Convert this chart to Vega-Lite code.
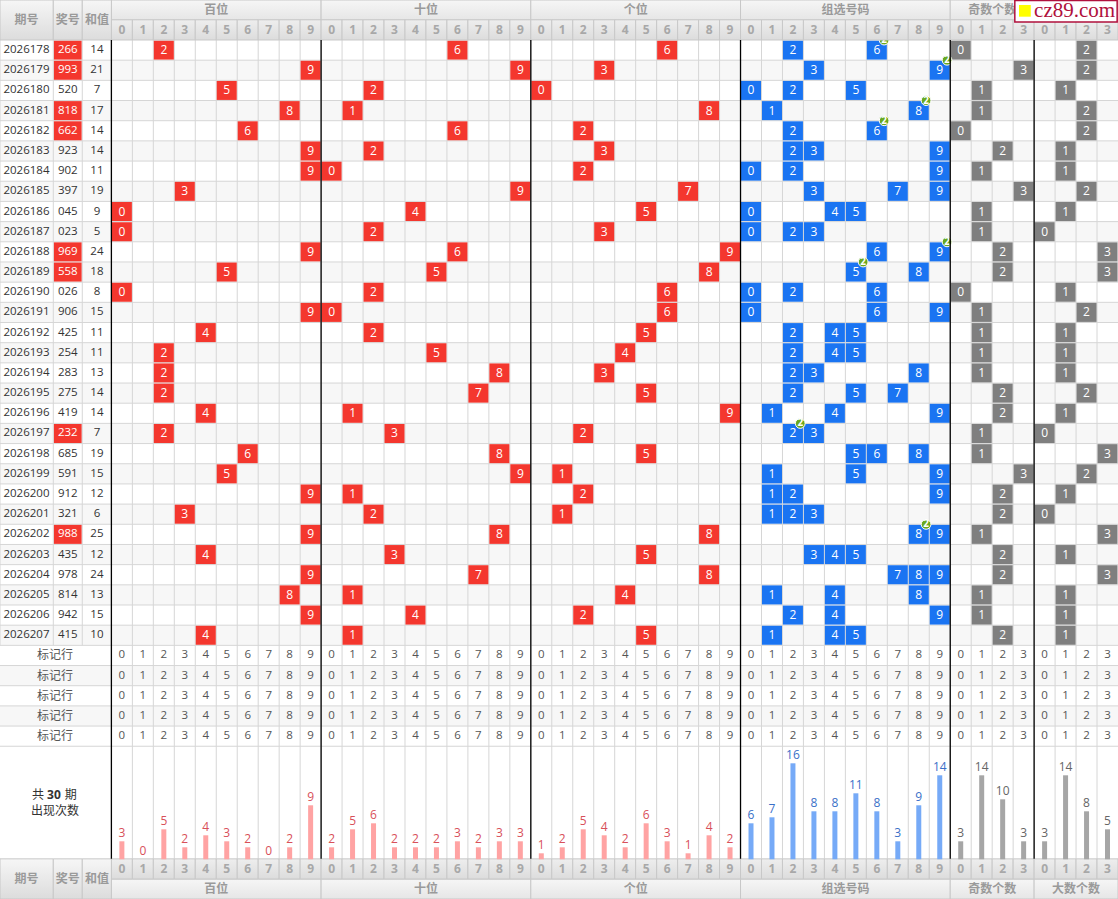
{
  "$schema": "https://vega.github.io/schema/vega-lite/v6.json",
  "width": 1118,
  "height": 899,
  "autosize": "none",
  "padding": 0,
  "background": "#ffffff",
  "datasets": {
    "draws": [
      {"row":0,"period":"2026178","number":"266","sum":14,"pair":true},
      {"row":1,"period":"2026179","number":"993","sum":21,"pair":true},
      {"row":2,"period":"2026180","number":"520","sum":7,"pair":false},
      {"row":3,"period":"2026181","number":"818","sum":17,"pair":true},
      {"row":4,"period":"2026182","number":"662","sum":14,"pair":true},
      {"row":5,"period":"2026183","number":"923","sum":14,"pair":false},
      {"row":6,"period":"2026184","number":"902","sum":11,"pair":false},
      {"row":7,"period":"2026185","number":"397","sum":19,"pair":false},
      {"row":8,"period":"2026186","number":"045","sum":9,"pair":false},
      {"row":9,"period":"2026187","number":"023","sum":5,"pair":false},
      {"row":10,"period":"2026188","number":"969","sum":24,"pair":true},
      {"row":11,"period":"2026189","number":"558","sum":18,"pair":true},
      {"row":12,"period":"2026190","number":"026","sum":8,"pair":false},
      {"row":13,"period":"2026191","number":"906","sum":15,"pair":false},
      {"row":14,"period":"2026192","number":"425","sum":11,"pair":false},
      {"row":15,"period":"2026193","number":"254","sum":11,"pair":false},
      {"row":16,"period":"2026194","number":"283","sum":13,"pair":false},
      {"row":17,"period":"2026195","number":"275","sum":14,"pair":false},
      {"row":18,"period":"2026196","number":"419","sum":14,"pair":false},
      {"row":19,"period":"2026197","number":"232","sum":7,"pair":true},
      {"row":20,"period":"2026198","number":"685","sum":19,"pair":false},
      {"row":21,"period":"2026199","number":"591","sum":15,"pair":false},
      {"row":22,"period":"2026200","number":"912","sum":12,"pair":false},
      {"row":23,"period":"2026201","number":"321","sum":6,"pair":false},
      {"row":24,"period":"2026202","number":"988","sum":25,"pair":true},
      {"row":25,"period":"2026203","number":"435","sum":12,"pair":false},
      {"row":26,"period":"2026204","number":"978","sum":24,"pair":false},
      {"row":27,"period":"2026205","number":"814","sum":13,"pair":false},
      {"row":28,"period":"2026206","number":"942","sum":15,"pair":false},
      {"row":29,"period":"2026207","number":"415","sum":10,"pair":false}
    ],
    "rows": [
      {"row":0},{"row":1},{"row":2},{"row":3},{"row":4},{"row":5},{"row":6},{"row":7},{"row":8},{"row":9},
      {"row":10},{"row":11},{"row":12},{"row":13},{"row":14},{"row":15},{"row":16},{"row":17},{"row":18},{"row":19},
      {"row":20},{"row":21},{"row":22},{"row":23},{"row":24},{"row":25},{"row":26},{"row":27},{"row":28},{"row":29},
      {"row":30,"label":"标记行"},{"row":31,"label":"标记行"},{"row":32,"label":"标记行"},{"row":33,"label":"标记行"},{"row":34,"label":"标记行"}
    ],
    "columns": [
      {"col":0,"digit":0,"kind":"red","count":3,"markRow":[30,31,32,33,34]},
      {"col":1,"digit":1,"kind":"red","count":0,"markRow":[30,31,32,33,34]},
      {"col":2,"digit":2,"kind":"red","count":5,"markRow":[30,31,32,33,34]},
      {"col":3,"digit":3,"kind":"red","count":2,"markRow":[30,31,32,33,34]},
      {"col":4,"digit":4,"kind":"red","count":4,"markRow":[30,31,32,33,34]},
      {"col":5,"digit":5,"kind":"red","count":3,"markRow":[30,31,32,33,34]},
      {"col":6,"digit":6,"kind":"red","count":2,"markRow":[30,31,32,33,34]},
      {"col":7,"digit":7,"kind":"red","count":0,"markRow":[30,31,32,33,34]},
      {"col":8,"digit":8,"kind":"red","count":2,"markRow":[30,31,32,33,34]},
      {"col":9,"digit":9,"kind":"red","count":9,"markRow":[30,31,32,33,34]},
      {"col":10,"digit":0,"kind":"red","count":2,"markRow":[30,31,32,33,34]},
      {"col":11,"digit":1,"kind":"red","count":5,"markRow":[30,31,32,33,34]},
      {"col":12,"digit":2,"kind":"red","count":6,"markRow":[30,31,32,33,34]},
      {"col":13,"digit":3,"kind":"red","count":2,"markRow":[30,31,32,33,34]},
      {"col":14,"digit":4,"kind":"red","count":2,"markRow":[30,31,32,33,34]},
      {"col":15,"digit":5,"kind":"red","count":2,"markRow":[30,31,32,33,34]},
      {"col":16,"digit":6,"kind":"red","count":3,"markRow":[30,31,32,33,34]},
      {"col":17,"digit":7,"kind":"red","count":2,"markRow":[30,31,32,33,34]},
      {"col":18,"digit":8,"kind":"red","count":3,"markRow":[30,31,32,33,34]},
      {"col":19,"digit":9,"kind":"red","count":3,"markRow":[30,31,32,33,34]},
      {"col":20,"digit":0,"kind":"red","count":1,"markRow":[30,31,32,33,34]},
      {"col":21,"digit":1,"kind":"red","count":2,"markRow":[30,31,32,33,34]},
      {"col":22,"digit":2,"kind":"red","count":5,"markRow":[30,31,32,33,34]},
      {"col":23,"digit":3,"kind":"red","count":4,"markRow":[30,31,32,33,34]},
      {"col":24,"digit":4,"kind":"red","count":2,"markRow":[30,31,32,33,34]},
      {"col":25,"digit":5,"kind":"red","count":6,"markRow":[30,31,32,33,34]},
      {"col":26,"digit":6,"kind":"red","count":3,"markRow":[30,31,32,33,34]},
      {"col":27,"digit":7,"kind":"red","count":1,"markRow":[30,31,32,33,34]},
      {"col":28,"digit":8,"kind":"red","count":4,"markRow":[30,31,32,33,34]},
      {"col":29,"digit":9,"kind":"red","count":2,"markRow":[30,31,32,33,34]},
      {"col":30,"digit":0,"kind":"blue","count":6,"markRow":[30,31,32,33,34]},
      {"col":31,"digit":1,"kind":"blue","count":7,"markRow":[30,31,32,33,34]},
      {"col":32,"digit":2,"kind":"blue","count":16,"markRow":[30,31,32,33,34]},
      {"col":33,"digit":3,"kind":"blue","count":8,"markRow":[30,31,32,33,34]},
      {"col":34,"digit":4,"kind":"blue","count":8,"markRow":[30,31,32,33,34]},
      {"col":35,"digit":5,"kind":"blue","count":11,"markRow":[30,31,32,33,34]},
      {"col":36,"digit":6,"kind":"blue","count":8,"markRow":[30,31,32,33,34]},
      {"col":37,"digit":7,"kind":"blue","count":3,"markRow":[30,31,32,33,34]},
      {"col":38,"digit":8,"kind":"blue","count":9,"markRow":[30,31,32,33,34]},
      {"col":39,"digit":9,"kind":"blue","count":14,"markRow":[30,31,32,33,34]},
      {"col":40,"digit":0,"kind":"gray","count":3,"markRow":[30,31,32,33,34]},
      {"col":41,"digit":1,"kind":"gray","count":14,"markRow":[30,31,32,33,34]},
      {"col":42,"digit":2,"kind":"gray","count":10,"markRow":[30,31,32,33,34]},
      {"col":43,"digit":3,"kind":"gray","count":3,"markRow":[30,31,32,33,34]},
      {"col":44,"digit":0,"kind":"gray","count":3,"markRow":[30,31,32,33,34]},
      {"col":45,"digit":1,"kind":"gray","count":14,"markRow":[30,31,32,33,34]},
      {"col":46,"digit":2,"kind":"gray","count":8,"markRow":[30,31,32,33,34]},
      {"col":47,"digit":3,"kind":"gray","count":5,"markRow":[30,31,32,33,34]}
    ],
    "groups": [
      {"name":"百位","start":-0.5,"end":9.5,"center":4.5},
      {"name":"十位","start":9.5,"end":19.5,"center":14.5},
      {"name":"个位","start":19.5,"end":29.5,"center":24.5},
      {"name":"组选号码","start":29.5,"end":39.5,"center":34.5},
      {"name":"奇数个数","start":39.5,"end":43.5,"center":41.5},
      {"name":"大数个数","start":43.5,"end":47.5,"center":45.5}
    ],
    "leftColumns": [
      {"name":"期号","start":-5.812,"end":-3.27,"center":-4.55},
      {"name":"奖号","start":-3.27,"end":-1.888,"center":-2.58},
      {"name":"和值","start":-1.888,"end":-0.5,"center":-1.19}
    ],
    "badges": [
      {"row":0,"col":36,"times":2},
      {"row":1,"col":39,"times":2},
      {"row":3,"col":38,"times":2},
      {"row":4,"col":36,"times":2},
      {"row":10,"col":39,"times":2},
      {"row":11,"col":35,"times":2},
      {"row":19,"col":32,"times":2},
      {"row":24,"col":38,"times":2}
    ],
    "cells": [
      {"row":0,"col":2,"digit":2,"kind":"red"},{"row":0,"col":16,"digit":6,"kind":"red"},{"row":0,"col":26,"digit":6,"kind":"red"},
      {"row":0,"col":32,"digit":2,"kind":"blue"},{"row":0,"col":36,"digit":6,"kind":"blue"},
      {"row":0,"col":40,"digit":0,"kind":"gray"},{"row":0,"col":46,"digit":2,"kind":"gray"},
      {"row":1,"col":9,"digit":9,"kind":"red"},{"row":1,"col":19,"digit":9,"kind":"red"},{"row":1,"col":23,"digit":3,"kind":"red"},
      {"row":1,"col":33,"digit":3,"kind":"blue"},{"row":1,"col":39,"digit":9,"kind":"blue"},
      {"row":1,"col":43,"digit":3,"kind":"gray"},{"row":1,"col":46,"digit":2,"kind":"gray"},
      {"row":2,"col":5,"digit":5,"kind":"red"},{"row":2,"col":12,"digit":2,"kind":"red"},{"row":2,"col":20,"digit":0,"kind":"red"},
      {"row":2,"col":30,"digit":0,"kind":"blue"},{"row":2,"col":32,"digit":2,"kind":"blue"},{"row":2,"col":35,"digit":5,"kind":"blue"},
      {"row":2,"col":41,"digit":1,"kind":"gray"},{"row":2,"col":45,"digit":1,"kind":"gray"},
      {"row":3,"col":8,"digit":8,"kind":"red"},{"row":3,"col":11,"digit":1,"kind":"red"},{"row":3,"col":28,"digit":8,"kind":"red"},
      {"row":3,"col":31,"digit":1,"kind":"blue"},{"row":3,"col":38,"digit":8,"kind":"blue"},
      {"row":3,"col":41,"digit":1,"kind":"gray"},{"row":3,"col":46,"digit":2,"kind":"gray"},
      {"row":4,"col":6,"digit":6,"kind":"red"},{"row":4,"col":16,"digit":6,"kind":"red"},{"row":4,"col":22,"digit":2,"kind":"red"},
      {"row":4,"col":32,"digit":2,"kind":"blue"},{"row":4,"col":36,"digit":6,"kind":"blue"},
      {"row":4,"col":40,"digit":0,"kind":"gray"},{"row":4,"col":46,"digit":2,"kind":"gray"},
      {"row":5,"col":9,"digit":9,"kind":"red"},{"row":5,"col":12,"digit":2,"kind":"red"},{"row":5,"col":23,"digit":3,"kind":"red"},
      {"row":5,"col":32,"digit":2,"kind":"blue"},{"row":5,"col":33,"digit":3,"kind":"blue"},{"row":5,"col":39,"digit":9,"kind":"blue"},
      {"row":5,"col":42,"digit":2,"kind":"gray"},{"row":5,"col":45,"digit":1,"kind":"gray"},
      {"row":6,"col":9,"digit":9,"kind":"red"},{"row":6,"col":10,"digit":0,"kind":"red"},{"row":6,"col":22,"digit":2,"kind":"red"},
      {"row":6,"col":30,"digit":0,"kind":"blue"},{"row":6,"col":32,"digit":2,"kind":"blue"},{"row":6,"col":39,"digit":9,"kind":"blue"},
      {"row":6,"col":41,"digit":1,"kind":"gray"},{"row":6,"col":45,"digit":1,"kind":"gray"},
      {"row":7,"col":3,"digit":3,"kind":"red"},{"row":7,"col":19,"digit":9,"kind":"red"},{"row":7,"col":27,"digit":7,"kind":"red"},
      {"row":7,"col":33,"digit":3,"kind":"blue"},{"row":7,"col":37,"digit":7,"kind":"blue"},{"row":7,"col":39,"digit":9,"kind":"blue"},
      {"row":7,"col":43,"digit":3,"kind":"gray"},{"row":7,"col":46,"digit":2,"kind":"gray"},
      {"row":8,"col":0,"digit":0,"kind":"red"},{"row":8,"col":14,"digit":4,"kind":"red"},{"row":8,"col":25,"digit":5,"kind":"red"},
      {"row":8,"col":30,"digit":0,"kind":"blue"},{"row":8,"col":34,"digit":4,"kind":"blue"},{"row":8,"col":35,"digit":5,"kind":"blue"},
      {"row":8,"col":41,"digit":1,"kind":"gray"},{"row":8,"col":45,"digit":1,"kind":"gray"},
      {"row":9,"col":0,"digit":0,"kind":"red"},{"row":9,"col":12,"digit":2,"kind":"red"},{"row":9,"col":23,"digit":3,"kind":"red"},
      {"row":9,"col":30,"digit":0,"kind":"blue"},{"row":9,"col":32,"digit":2,"kind":"blue"},{"row":9,"col":33,"digit":3,"kind":"blue"},
      {"row":9,"col":41,"digit":1,"kind":"gray"},{"row":9,"col":44,"digit":0,"kind":"gray"},
      {"row":10,"col":9,"digit":9,"kind":"red"},{"row":10,"col":16,"digit":6,"kind":"red"},{"row":10,"col":29,"digit":9,"kind":"red"},
      {"row":10,"col":36,"digit":6,"kind":"blue"},{"row":10,"col":39,"digit":9,"kind":"blue"},
      {"row":10,"col":42,"digit":2,"kind":"gray"},{"row":10,"col":47,"digit":3,"kind":"gray"},
      {"row":11,"col":5,"digit":5,"kind":"red"},{"row":11,"col":15,"digit":5,"kind":"red"},{"row":11,"col":28,"digit":8,"kind":"red"},
      {"row":11,"col":35,"digit":5,"kind":"blue"},{"row":11,"col":38,"digit":8,"kind":"blue"},
      {"row":11,"col":42,"digit":2,"kind":"gray"},{"row":11,"col":47,"digit":3,"kind":"gray"},
      {"row":12,"col":0,"digit":0,"kind":"red"},{"row":12,"col":12,"digit":2,"kind":"red"},{"row":12,"col":26,"digit":6,"kind":"red"},
      {"row":12,"col":30,"digit":0,"kind":"blue"},{"row":12,"col":32,"digit":2,"kind":"blue"},{"row":12,"col":36,"digit":6,"kind":"blue"},
      {"row":12,"col":40,"digit":0,"kind":"gray"},{"row":12,"col":45,"digit":1,"kind":"gray"},
      {"row":13,"col":9,"digit":9,"kind":"red"},{"row":13,"col":10,"digit":0,"kind":"red"},{"row":13,"col":26,"digit":6,"kind":"red"},
      {"row":13,"col":30,"digit":0,"kind":"blue"},{"row":13,"col":36,"digit":6,"kind":"blue"},{"row":13,"col":39,"digit":9,"kind":"blue"},
      {"row":13,"col":41,"digit":1,"kind":"gray"},{"row":13,"col":46,"digit":2,"kind":"gray"},
      {"row":14,"col":4,"digit":4,"kind":"red"},{"row":14,"col":12,"digit":2,"kind":"red"},{"row":14,"col":25,"digit":5,"kind":"red"},
      {"row":14,"col":32,"digit":2,"kind":"blue"},{"row":14,"col":34,"digit":4,"kind":"blue"},{"row":14,"col":35,"digit":5,"kind":"blue"},
      {"row":14,"col":41,"digit":1,"kind":"gray"},{"row":14,"col":45,"digit":1,"kind":"gray"},
      {"row":15,"col":2,"digit":2,"kind":"red"},{"row":15,"col":15,"digit":5,"kind":"red"},{"row":15,"col":24,"digit":4,"kind":"red"},
      {"row":15,"col":32,"digit":2,"kind":"blue"},{"row":15,"col":34,"digit":4,"kind":"blue"},{"row":15,"col":35,"digit":5,"kind":"blue"},
      {"row":15,"col":41,"digit":1,"kind":"gray"},{"row":15,"col":45,"digit":1,"kind":"gray"},
      {"row":16,"col":2,"digit":2,"kind":"red"},{"row":16,"col":18,"digit":8,"kind":"red"},{"row":16,"col":23,"digit":3,"kind":"red"},
      {"row":16,"col":32,"digit":2,"kind":"blue"},{"row":16,"col":33,"digit":3,"kind":"blue"},{"row":16,"col":38,"digit":8,"kind":"blue"},
      {"row":16,"col":41,"digit":1,"kind":"gray"},{"row":16,"col":45,"digit":1,"kind":"gray"},
      {"row":17,"col":2,"digit":2,"kind":"red"},{"row":17,"col":17,"digit":7,"kind":"red"},{"row":17,"col":25,"digit":5,"kind":"red"},
      {"row":17,"col":32,"digit":2,"kind":"blue"},{"row":17,"col":35,"digit":5,"kind":"blue"},{"row":17,"col":37,"digit":7,"kind":"blue"},
      {"row":17,"col":42,"digit":2,"kind":"gray"},{"row":17,"col":46,"digit":2,"kind":"gray"},
      {"row":18,"col":4,"digit":4,"kind":"red"},{"row":18,"col":11,"digit":1,"kind":"red"},{"row":18,"col":29,"digit":9,"kind":"red"},
      {"row":18,"col":31,"digit":1,"kind":"blue"},{"row":18,"col":34,"digit":4,"kind":"blue"},{"row":18,"col":39,"digit":9,"kind":"blue"},
      {"row":18,"col":42,"digit":2,"kind":"gray"},{"row":18,"col":45,"digit":1,"kind":"gray"},
      {"row":19,"col":2,"digit":2,"kind":"red"},{"row":19,"col":13,"digit":3,"kind":"red"},{"row":19,"col":22,"digit":2,"kind":"red"},
      {"row":19,"col":32,"digit":2,"kind":"blue"},{"row":19,"col":33,"digit":3,"kind":"blue"},
      {"row":19,"col":41,"digit":1,"kind":"gray"},{"row":19,"col":44,"digit":0,"kind":"gray"},
      {"row":20,"col":6,"digit":6,"kind":"red"},{"row":20,"col":18,"digit":8,"kind":"red"},{"row":20,"col":25,"digit":5,"kind":"red"},
      {"row":20,"col":35,"digit":5,"kind":"blue"},{"row":20,"col":36,"digit":6,"kind":"blue"},{"row":20,"col":38,"digit":8,"kind":"blue"},
      {"row":20,"col":41,"digit":1,"kind":"gray"},{"row":20,"col":47,"digit":3,"kind":"gray"},
      {"row":21,"col":5,"digit":5,"kind":"red"},{"row":21,"col":19,"digit":9,"kind":"red"},{"row":21,"col":21,"digit":1,"kind":"red"},
      {"row":21,"col":31,"digit":1,"kind":"blue"},{"row":21,"col":35,"digit":5,"kind":"blue"},{"row":21,"col":39,"digit":9,"kind":"blue"},
      {"row":21,"col":43,"digit":3,"kind":"gray"},{"row":21,"col":46,"digit":2,"kind":"gray"},
      {"row":22,"col":9,"digit":9,"kind":"red"},{"row":22,"col":11,"digit":1,"kind":"red"},{"row":22,"col":22,"digit":2,"kind":"red"},
      {"row":22,"col":31,"digit":1,"kind":"blue"},{"row":22,"col":32,"digit":2,"kind":"blue"},{"row":22,"col":39,"digit":9,"kind":"blue"},
      {"row":22,"col":42,"digit":2,"kind":"gray"},{"row":22,"col":45,"digit":1,"kind":"gray"},
      {"row":23,"col":3,"digit":3,"kind":"red"},{"row":23,"col":12,"digit":2,"kind":"red"},{"row":23,"col":21,"digit":1,"kind":"red"},
      {"row":23,"col":31,"digit":1,"kind":"blue"},{"row":23,"col":32,"digit":2,"kind":"blue"},{"row":23,"col":33,"digit":3,"kind":"blue"},
      {"row":23,"col":42,"digit":2,"kind":"gray"},{"row":23,"col":44,"digit":0,"kind":"gray"},
      {"row":24,"col":9,"digit":9,"kind":"red"},{"row":24,"col":18,"digit":8,"kind":"red"},{"row":24,"col":28,"digit":8,"kind":"red"},
      {"row":24,"col":38,"digit":8,"kind":"blue"},{"row":24,"col":39,"digit":9,"kind":"blue"},
      {"row":24,"col":41,"digit":1,"kind":"gray"},{"row":24,"col":47,"digit":3,"kind":"gray"},
      {"row":25,"col":4,"digit":4,"kind":"red"},{"row":25,"col":13,"digit":3,"kind":"red"},{"row":25,"col":25,"digit":5,"kind":"red"},
      {"row":25,"col":33,"digit":3,"kind":"blue"},{"row":25,"col":34,"digit":4,"kind":"blue"},{"row":25,"col":35,"digit":5,"kind":"blue"},
      {"row":25,"col":42,"digit":2,"kind":"gray"},{"row":25,"col":45,"digit":1,"kind":"gray"},
      {"row":26,"col":9,"digit":9,"kind":"red"},{"row":26,"col":17,"digit":7,"kind":"red"},{"row":26,"col":28,"digit":8,"kind":"red"},
      {"row":26,"col":37,"digit":7,"kind":"blue"},{"row":26,"col":38,"digit":8,"kind":"blue"},{"row":26,"col":39,"digit":9,"kind":"blue"},
      {"row":26,"col":42,"digit":2,"kind":"gray"},{"row":26,"col":47,"digit":3,"kind":"gray"},
      {"row":27,"col":8,"digit":8,"kind":"red"},{"row":27,"col":11,"digit":1,"kind":"red"},{"row":27,"col":24,"digit":4,"kind":"red"},
      {"row":27,"col":31,"digit":1,"kind":"blue"},{"row":27,"col":34,"digit":4,"kind":"blue"},{"row":27,"col":38,"digit":8,"kind":"blue"},
      {"row":27,"col":41,"digit":1,"kind":"gray"},{"row":27,"col":45,"digit":1,"kind":"gray"},
      {"row":28,"col":9,"digit":9,"kind":"red"},{"row":28,"col":14,"digit":4,"kind":"red"},{"row":28,"col":22,"digit":2,"kind":"red"},
      {"row":28,"col":32,"digit":2,"kind":"blue"},{"row":28,"col":34,"digit":4,"kind":"blue"},{"row":28,"col":39,"digit":9,"kind":"blue"},
      {"row":28,"col":41,"digit":1,"kind":"gray"},{"row":28,"col":45,"digit":1,"kind":"gray"},
      {"row":29,"col":4,"digit":4,"kind":"red"},{"row":29,"col":11,"digit":1,"kind":"red"},{"row":29,"col":25,"digit":5,"kind":"red"},
      {"row":29,"col":31,"digit":1,"kind":"blue"},{"row":29,"col":34,"digit":4,"kind":"blue"},{"row":29,"col":35,"digit":5,"kind":"blue"},
      {"row":29,"col":42,"digit":2,"kind":"gray"},{"row":29,"col":45,"digit":1,"kind":"gray"}
    ]
  },
  "resolve": {"scale": {"y": "independent", "color": "independent"}},
  "layer": [
    {
      "layer": [
        {
          "data": {"name": "rows"},
          "transform": [{"filter": "datum.row % 2 == 1"}],
          "mark": {"type": "rect", "height": 20.18, "fill": "#f7f7f7"},
          "encoding": {
            "x": {"datum": -5.812, "type": "quantitative", "scale": {"domain": [-5.812, 47.5], "nice": false, "zero": false}},
            "x2": {"datum": 47.5},
            "y": {"field": "row", "type": "quantitative", "scale": {"domain": [42.07, -2.482], "nice": false, "zero": false}}
          }
        },
        {
          "data": {"name": "rows"},
          "mark": {"type": "rule", "stroke": "#d6d6d6", "strokeWidth": 1, "yOffset": 10.09},
          "encoding": {
            "y": {"field": "row", "type": "quantitative", "scale": {"domain": [42.07, -2.482], "nice": false, "zero": false}}
          }
        },
        {
          "data": {"name": "columns"},
          "mark": {"type": "rule", "stroke": "#d6d6d6", "strokeWidth": 1, "xOffset": -10.485},
          "encoding": {
            "x": {"field": "col", "type": "quantitative", "scale": {"domain": [-5.812, 47.5], "nice": false, "zero": false}},
            "y": {"datum": -0.5, "type": "quantitative", "scale": {"domain": [42.07, -2.482], "nice": false, "zero": false}},
            "y2": {"datum": 40.08}
          }
        },
        {
          "data": {"name": "leftColumns"},
          "mark": {"type": "rule", "stroke": "#d6d6d6", "strokeWidth": 1},
          "encoding": {
            "x": {"field": "start", "type": "quantitative", "scale": {"domain": [-5.812, 47.5], "nice": false, "zero": false}},
            "y": {"datum": -0.5, "type": "quantitative", "scale": {"domain": [42.07, -2.482], "nice": false, "zero": false}},
            "y2": {"datum": 29.5}
          }
        },
        {
          "data": {"name": "draws"},
          "transform": [{"filter": "datum.pair"}],
          "mark": {"type": "rect", "height": 19, "fill": "#f4372e"},
          "encoding": {
            "x": {"datum": -3.24, "type": "quantitative", "scale": {"domain": [-5.812, 47.5], "nice": false, "zero": false}},
            "x2": {"datum": -1.92},
            "y": {"field": "row", "type": "quantitative", "scale": {"domain": [42.07, -2.482], "nice": false, "zero": false}}
          }
        },
        {
          "data": {"name": "draws"},
          "mark": {"type": "text", "font": "Open Sans", "fontSize": 11.5, "fill": "#333333", "baseline": "middle"},
          "encoding": {
            "x": {"datum": -4.55, "type": "quantitative", "scale": {"domain": [-5.812, 47.5], "nice": false, "zero": false}},
            "y": {"field": "row", "type": "quantitative", "scale": {"domain": [42.07, -2.482], "nice": false, "zero": false}},
            "text": {"field": "period"}
          }
        },
        {
          "data": {"name": "draws"},
          "mark": {"type": "text", "font": "Open Sans", "fontSize": 11.5, "baseline": "middle"},
          "encoding": {
            "x": {"datum": -2.58, "type": "quantitative", "scale": {"domain": [-5.812, 47.5], "nice": false, "zero": false}},
            "y": {"field": "row", "type": "quantitative", "scale": {"domain": [42.07, -2.482], "nice": false, "zero": false}},
            "text": {"field": "number"},
            "color": {"condition": {"test": "datum.pair", "value": "#ffffff"}, "value": "#333333"}
          }
        },
        {
          "data": {"name": "draws"},
          "mark": {"type": "text", "font": "Open Sans", "fontSize": 11.5, "fill": "#333333", "baseline": "middle"},
          "encoding": {
            "x": {"datum": -1.19, "type": "quantitative", "scale": {"domain": [-5.812, 47.5], "nice": false, "zero": false}},
            "y": {"field": "row", "type": "quantitative", "scale": {"domain": [42.07, -2.482], "nice": false, "zero": false}},
            "text": {"field": "sum"}
          }
        },
        {
          "data": {"name": "rows"},
          "transform": [{"filter": "datum.row >= 30"}],
          "mark": {"type": "text", "font": "Noto Sans CJK SC", "fontSize": 12, "fill": "#555555", "baseline": "middle"},
          "encoding": {
            "x": {"datum": -3.19, "type": "quantitative", "scale": {"domain": [-5.812, 47.5], "nice": false, "zero": false}},
            "y": {"field": "row", "type": "quantitative", "scale": {"domain": [42.07, -2.482], "nice": false, "zero": false}},
            "text": {"field": "label"}
          }
        },
        {
          "data": {"name": "columns"},
          "transform": [{"flatten": ["markRow"]}],
          "mark": {"type": "text", "font": "Open Sans", "fontSize": 11.5, "fill": "#555555", "baseline": "middle"},
          "encoding": {
            "x": {"field": "col", "type": "quantitative", "scale": {"domain": [-5.812, 47.5], "nice": false, "zero": false}},
            "y": {"field": "markRow", "type": "quantitative", "scale": {"domain": [42.07, -2.482], "nice": false, "zero": false}},
            "text": {"field": "digit"}
          }
        },
        {
          "data": {"name": "cells"},
          "mark": {"type": "rect", "width": 20, "height": 19},
          "encoding": {
            "x": {"field": "col", "type": "quantitative", "scale": {"domain": [-5.812, 47.5], "nice": false, "zero": false}},
            "y": {"field": "row", "type": "quantitative", "scale": {"domain": [42.07, -2.482], "nice": false, "zero": false}},
            "color": {"field": "kind", "type": "nominal", "legend": null, "scale": {"domain": ["red", "blue", "gray"], "range": ["#f4372e", "#1a74f2", "#7f7f7f"]}}
          }
        },
        {
          "data": {"name": "cells"},
          "mark": {"type": "text", "font": "Open Sans", "fontSize": 12, "fill": "#ffffff", "baseline": "middle"},
          "encoding": {
            "x": {"field": "col", "type": "quantitative", "scale": {"domain": [-5.812, 47.5], "nice": false, "zero": false}},
            "y": {"field": "row", "type": "quantitative", "scale": {"domain": [42.07, -2.482], "nice": false, "zero": false}},
            "text": {"field": "digit"}
          }
        },
        {
          "data": {"name": "badges"},
          "mark": {"type": "point", "shape": "circle", "filled": true, "size": 95, "fill": "#6aa81e", "stroke": "#ffffff", "strokeWidth": 1, "opacity": 1, "xOffset": 7.3, "yOffset": -10},
          "encoding": {
            "x": {"field": "col", "type": "quantitative", "scale": {"domain": [-5.812, 47.5], "nice": false, "zero": false}},
            "y": {"field": "row", "type": "quantitative", "scale": {"domain": [42.07, -2.482], "nice": false, "zero": false}}
          }
        },
        {
          "data": {"name": "badges"},
          "mark": {"type": "text", "font": "Open Sans", "fontSize": 10, "fontWeight": "bold", "fill": "#ffffff", "baseline": "middle", "xOffset": 7.3, "yOffset": -10},
          "encoding": {
            "x": {"field": "col", "type": "quantitative", "scale": {"domain": [-5.812, 47.5], "nice": false, "zero": false}},
            "y": {"field": "row", "type": "quantitative", "scale": {"domain": [42.07, -2.482], "nice": false, "zero": false}},
            "text": {"field": "times"}
          }
        },
        {
          "data": {"name": "groups"},
          "mark": {"type": "rect", "stroke": "#c8c8c8", "strokeWidth": 1, "fill": {"gradient": "linear", "x1": 0, "y1": 0, "x2": 0, "y2": 1, "stops": [{"offset": 0, "color": "#f6f6f6"}, {"offset": 1, "color": "#e6e6e6"}]}},
          "encoding": {
            "x": {"field": "start", "type": "quantitative", "scale": {"domain": [-5.812, 47.5], "nice": false, "zero": false}},
            "x2": {"field": "end"},
            "y": {"datum": -2.482, "type": "quantitative", "scale": {"domain": [42.07, -2.482], "nice": false, "zero": false}},
            "y2": {"datum": -1.491}
          }
        },
        {
          "data": {"name": "groups"},
          "mark": {"type": "rect", "stroke": "#c8c8c8", "strokeWidth": 1, "fill": {"gradient": "linear", "x1": 0, "y1": 0, "x2": 0, "y2": 1, "stops": [{"offset": 0, "color": "#f6f6f6"}, {"offset": 1, "color": "#e6e6e6"}]}},
          "encoding": {
            "x": {"field": "start", "type": "quantitative", "scale": {"domain": [-5.812, 47.5], "nice": false, "zero": false}},
            "x2": {"field": "end"},
            "y": {"datum": 41.08, "type": "quantitative", "scale": {"domain": [42.07, -2.482], "nice": false, "zero": false}},
            "y2": {"datum": 42.07}
          }
        },
        {
          "data": {"name": "columns"},
          "mark": {"type": "rect", "width": 20.97, "height": 20.18, "stroke": "#c8c8c8", "strokeWidth": 1, "fill": {"gradient": "linear", "x1": 0, "y1": 0, "x2": 0, "y2": 1, "stops": [{"offset": 0, "color": "#eeeeee"}, {"offset": 1, "color": "#dcdcdc"}]}},
          "encoding": {
            "x": {"field": "col", "type": "quantitative", "scale": {"domain": [-5.812, 47.5], "nice": false, "zero": false}},
            "y": {"datum": -1, "type": "quantitative", "scale": {"domain": [42.07, -2.482], "nice": false, "zero": false}}
          }
        },
        {
          "data": {"name": "columns"},
          "mark": {"type": "rect", "width": 20.97, "height": 20.18, "stroke": "#c8c8c8", "strokeWidth": 1, "fill": {"gradient": "linear", "x1": 0, "y1": 0, "x2": 0, "y2": 1, "stops": [{"offset": 0, "color": "#eeeeee"}, {"offset": 1, "color": "#dcdcdc"}]}},
          "encoding": {
            "x": {"field": "col", "type": "quantitative", "scale": {"domain": [-5.812, 47.5], "nice": false, "zero": false}},
            "y": {"datum": 40.58, "type": "quantitative", "scale": {"domain": [42.07, -2.482], "nice": false, "zero": false}}
          }
        },
        {
          "data": {"name": "leftColumns"},
          "mark": {"type": "rect", "stroke": "#c8c8c8", "strokeWidth": 1, "fill": {"gradient": "linear", "x1": 0, "y1": 0, "x2": 0, "y2": 1, "stops": [{"offset": 0, "color": "#f6f6f6"}, {"offset": 1, "color": "#dcdcdc"}]}},
          "encoding": {
            "x": {"field": "start", "type": "quantitative", "scale": {"domain": [-5.812, 47.5], "nice": false, "zero": false}},
            "x2": {"field": "end"},
            "y": {"datum": -2.482, "type": "quantitative", "scale": {"domain": [42.07, -2.482], "nice": false, "zero": false}},
            "y2": {"datum": -0.5}
          }
        },
        {
          "data": {"name": "leftColumns"},
          "mark": {"type": "rect", "stroke": "#c8c8c8", "strokeWidth": 1, "fill": {"gradient": "linear", "x1": 0, "y1": 0, "x2": 0, "y2": 1, "stops": [{"offset": 0, "color": "#f6f6f6"}, {"offset": 1, "color": "#dcdcdc"}]}},
          "encoding": {
            "x": {"field": "start", "type": "quantitative", "scale": {"domain": [-5.812, 47.5], "nice": false, "zero": false}},
            "x2": {"field": "end"},
            "y": {"datum": 40.08, "type": "quantitative", "scale": {"domain": [42.07, -2.482], "nice": false, "zero": false}},
            "y2": {"datum": 42.07}
          }
        },
        {
          "data": {"name": "groups"},
          "mark": {"type": "text", "font": "Noto Sans CJK SC", "fontSize": 12, "fontWeight": "bold", "fill": "#9a9a9a", "baseline": "middle"},
          "encoding": {
            "x": {"field": "center", "type": "quantitative", "scale": {"domain": [-5.812, 47.5], "nice": false, "zero": false}},
            "y": {"datum": -1.98, "type": "quantitative", "scale": {"domain": [42.07, -2.482], "nice": false, "zero": false}},
            "text": {"field": "name"}
          }
        },
        {
          "data": {"name": "groups"},
          "mark": {"type": "text", "font": "Noto Sans CJK SC", "fontSize": 12, "fontWeight": "bold", "fill": "#9a9a9a", "baseline": "middle"},
          "encoding": {
            "x": {"field": "center", "type": "quantitative", "scale": {"domain": [-5.812, 47.5], "nice": false, "zero": false}},
            "y": {"datum": 41.58, "type": "quantitative", "scale": {"domain": [42.07, -2.482], "nice": false, "zero": false}},
            "text": {"field": "name"}
          }
        },
        {
          "data": {"name": "columns"},
          "mark": {"type": "text", "font": "Open Sans", "fontSize": 12, "fontWeight": "bold", "fill": "#a8a8a8", "baseline": "middle"},
          "encoding": {
            "x": {"field": "col", "type": "quantitative", "scale": {"domain": [-5.812, 47.5], "nice": false, "zero": false}},
            "y": {"datum": -1, "type": "quantitative", "scale": {"domain": [42.07, -2.482], "nice": false, "zero": false}},
            "text": {"field": "digit"}
          }
        },
        {
          "data": {"name": "columns"},
          "mark": {"type": "text", "font": "Open Sans", "fontSize": 12, "fontWeight": "bold", "fill": "#a8a8a8", "baseline": "middle"},
          "encoding": {
            "x": {"field": "col", "type": "quantitative", "scale": {"domain": [-5.812, 47.5], "nice": false, "zero": false}},
            "y": {"datum": 40.58, "type": "quantitative", "scale": {"domain": [42.07, -2.482], "nice": false, "zero": false}},
            "text": {"field": "digit"}
          }
        },
        {
          "data": {"name": "leftColumns"},
          "mark": {"type": "text", "font": "Noto Sans CJK SC", "fontSize": 12, "fontWeight": "bold", "fill": "#9a9a9a", "baseline": "middle"},
          "encoding": {
            "x": {"field": "center", "type": "quantitative", "scale": {"domain": [-5.812, 47.5], "nice": false, "zero": false}},
            "y": {"datum": -1.5, "type": "quantitative", "scale": {"domain": [42.07, -2.482], "nice": false, "zero": false}},
            "text": {"field": "name"}
          }
        },
        {
          "data": {"name": "leftColumns"},
          "mark": {"type": "text", "font": "Noto Sans CJK SC", "fontSize": 12, "fontWeight": "bold", "fill": "#9a9a9a", "baseline": "middle"},
          "encoding": {
            "x": {"field": "center", "type": "quantitative", "scale": {"domain": [-5.812, 47.5], "nice": false, "zero": false}},
            "y": {"datum": 41.08, "type": "quantitative", "scale": {"domain": [42.07, -2.482], "nice": false, "zero": false}},
            "text": {"field": "name"}
          }
        },
        {
          "data": {"name": "groups"},
          "mark": {"type": "rule", "stroke": "#000000", "strokeWidth": 1.3},
          "encoding": {
            "x": {"field": "start", "type": "quantitative", "scale": {"domain": [-5.812, 47.5], "nice": false, "zero": false}},
            "y": {"datum": -0.5, "type": "quantitative", "scale": {"domain": [42.07, -2.482], "nice": false, "zero": false}},
            "y2": {"datum": 40.08}
          }
        },
        {
          "data": {"values": [{"line": "共", "col": -4.0, "row": 36.91}, {"line": "期", "col": -2.44, "row": 36.91}, {"line": "出现次数", "col": -3.19, "row": 37.71}]},
          "mark": {"type": "text", "font": "Noto Sans CJK SC", "fontSize": 12, "fill": "#333333", "baseline": "middle"},
          "encoding": {
            "x": {"field": "col", "type": "quantitative", "scale": {"domain": [-5.812, 47.5], "nice": false, "zero": false}},
            "y": {"field": "row", "type": "quantitative", "scale": {"domain": [42.07, -2.482], "nice": false, "zero": false}},
            "text": {"field": "line"}
          }
        },
        {
          "data": {"values": [{"line": "30", "col": -3.24, "row": 36.91}]},
          "mark": {"type": "text", "font": "Open Sans", "fontSize": 12, "fontWeight": "bold", "fill": "#333333", "baseline": "middle"},
          "encoding": {
            "x": {"field": "col", "type": "quantitative", "scale": {"domain": [-5.812, 47.5], "nice": false, "zero": false}},
            "y": {"field": "row", "type": "quantitative", "scale": {"domain": [42.07, -2.482], "nice": false, "zero": false}},
            "text": {"field": "line"}
          }
        },
        {
          "data": {"values": [{"site": "cz89.com"}]},
          "mark": {"type": "rect", "fill": "#ffffff", "stroke": "#b0103c", "strokeWidth": 1.5},
          "encoding": {
            "x": {"datum": 42.58, "type": "quantitative", "scale": {"domain": [-5.812, 47.5], "nice": false, "zero": false}},
            "x2": {"datum": 47.46},
            "y": {"datum": -2.46, "type": "quantitative", "scale": {"domain": [42.07, -2.482], "nice": false, "zero": false}},
            "y2": {"datum": -1.392}
          }
        },
        {
          "data": {"values": [{"site": "cz89.com"}]},
          "mark": {"type": "rect", "fill": "#ffff00"},
          "encoding": {
            "x": {"datum": 42.78, "type": "quantitative", "scale": {"domain": [-5.812, 47.5], "nice": false, "zero": false}},
            "x2": {"datum": 43.34},
            "y": {"datum": -2.234, "type": "quantitative", "scale": {"domain": [42.07, -2.482], "nice": false, "zero": false}},
            "y2": {"datum": -1.655}
          }
        },
        {
          "data": {"values": [{"site": "cz89.com"}]},
          "mark": {"type": "text", "font": "Liberation Serif", "fontSize": 21, "fill": "#b0103c", "align": "left", "baseline": "middle"},
          "encoding": {
            "x": {"datum": 43.5, "type": "quantitative", "scale": {"domain": [-5.812, 47.5], "nice": false, "zero": false}},
            "y": {"datum": -1.937, "type": "quantitative", "scale": {"domain": [42.07, -2.482], "nice": false, "zero": false}},
            "text": {"field": "site"}
          }
        }
      ]
    },
    {
      "resolve": {"scale": {"color": "independent"}},
      "data": {"name": "columns"},
      "layer": [
        {
          "mark": {"type": "rect", "width": 5},
          "encoding": {
            "x": {"field": "col", "type": "quantitative", "scale": {"domain": [-5.812, 47.5], "nice": false, "zero": false}},
            "y": {"field": "count", "type": "quantitative", "scale": {"domain": [0, 16], "range": [859.3, 763.3], "nice": false}},
            "y2": {"datum": 0},
            "color": {"field": "kind", "type": "nominal", "legend": null, "scale": {"domain": ["red", "blue", "gray"], "range": ["#ffa3a3", "#76aaf7", "#a6a6a6"]}}
          }
        },
        {
          "mark": {"type": "text", "font": "Open Sans", "fontSize": 12, "baseline": "middle", "dy": -8},
          "encoding": {
            "x": {"field": "col", "type": "quantitative", "scale": {"domain": [-5.812, 47.5], "nice": false, "zero": false}},
            "y": {"field": "count", "type": "quantitative", "scale": {"domain": [0, 16], "range": [859.3, 763.3], "nice": false}},
            "text": {"field": "count"},
            "color": {"field": "kind", "type": "nominal", "legend": null, "scale": {"domain": ["red", "blue", "gray"], "range": ["#d8505a", "#3a70c8", "#666666"]}}
          }
        }
      ]
    }
  ],
  "config": {
    "view": {"stroke": null},
    "axis": {"disable": true},
    "legend": {"disable": true}
  }
}
